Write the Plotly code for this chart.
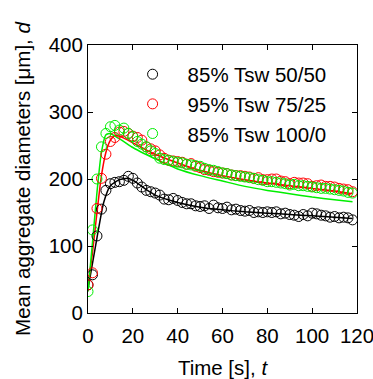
import plotly.graph_objects as go

t = list(range(0, 120, 2))

black = [42, 57, 115, 155, 183, 193, 195, 196, 198, 204, 201, 194, 188, 183, 181, 179, 176, 170, 169, 171,
         168, 165, 163, 163, 160, 159, 160, 156, 161, 157, 156, 158, 154, 155, 153, 152, 153, 150, 151, 150,
         151, 150, 151, 148, 149, 147, 146, 144, 147, 145, 149, 148, 146, 145, 143, 144, 142, 143, 142, 139]
red = [42, 60, 156, 201, 237, 256, 262, 270, 271, 268, 264, 262, 258, 248, 245, 242, 236, 231, 228, 227,
       226, 225, 222, 223, 219, 217, 214, 213, 211, 210, 209, 208, 206, 205, 205, 204, 203, 201, 202, 199,
       199, 200, 200, 197, 196, 193, 195, 194, 194, 193, 189, 190, 191, 189, 189, 188, 186, 185, 184, 181]
green = [32, 124, 200, 248, 268, 278, 280, 273, 276, 268, 263, 256, 252, 248, 242, 238, 231, 229, 228, 226,
         225, 224, 222, 221, 220, 219, 216, 214, 213, 211, 209, 208, 206, 205, 204, 203, 202, 201, 199, 198,
         196, 196, 195, 194, 193, 191, 192, 190, 190, 189, 188, 187, 186, 186, 185, 184, 183, 182, 180, 179]

fit_black_t = [0, 4, 7, 10, 14, 18, 22, 26, 30, 40, 50, 60, 70, 80, 90, 100, 110, 118]
fit_black = [36, 112, 165, 190, 199, 201, 194, 184, 176, 165, 158, 154, 151, 149, 147, 145, 143, 141]
fit_red_t = [0, 2, 4, 6, 8, 10, 12, 14, 16, 20, 25, 30, 40, 50, 60, 70, 80, 90, 100, 110, 118]
fit_red = [40, 90, 150, 205, 240, 258, 265, 264, 261, 254, 245, 237, 224, 213, 205, 199, 194, 190, 186, 182, 178]
fit_green_t = [0, 2, 4, 6, 8, 10, 12, 15, 20, 25, 30, 40, 50, 60, 70, 80, 90, 100, 110, 118]
fit_green = [32, 105, 180, 240, 266, 268, 264, 258, 247, 238, 230, 215, 205, 197, 189, 183, 178, 173, 169, 166]

names = ["85% Tsw 50/50", "95% Tsw 75/25", "85% Tsw 100/0"]
colors = ["#000000", "#ff0000", "#00ee00"]

fig = go.Figure()
for ft, fv, c in [(fit_black_t, fit_black, colors[0]), (fit_red_t, fit_red, colors[1]),
                  (fit_green_t, fit_green, colors[2])]:
    fig.add_trace(go.Scatter(x=ft, y=fv, mode="lines", line=dict(color=c, width=1.5, shape="spline", smoothing=0.6),
                             showlegend=False, hoverinfo="skip"))
for vals, n, c in [(black, names[0], colors[0]), (red, names[1], colors[1]), (green, names[2], colors[2])]:
    fig.add_trace(go.Scatter(x=t, y=vals, mode="markers", name=n,
                             marker=dict(symbol="circle-open", size=10, color=c, line=dict(width=1, color=c))))

font = dict(family="Liberation Sans, Arial, sans-serif", size=20.5, color="#000000")
fig.update_layout(
    width=373, height=379,
    margin=dict(l=88, r=16, t=45, b=66),
    paper_bgcolor="white", plot_bgcolor="white",
    font=font,
    legend=dict(x=0.11, y=0.965, xanchor="left", yanchor="top", bgcolor="rgba(0,0,0,0)",
                font=font, itemwidth=60, tracegroupgap=0),
)
fig.update_xaxes(range=[0, 120], dtick=20, tick0=0, ticks="inside", ticklen=5, tickcolor="black",
                 showline=True, linecolor="black", linewidth=1, mirror="ticks", showgrid=False, zeroline=False,
                 ticklabeloverflow="allow", ticklabelstandoff=4, automargin=False,
                 title=dict(text="Time [s], <i>t</i>", font=font, standoff=18))
fig.update_yaxes(range=[0, 400], dtick=100, tick0=0, ticks="inside", ticklen=5, tickcolor="black",
                 showline=True, linecolor="black", linewidth=1, mirror="ticks", showgrid=False, zeroline=False,
                 ticklabeloverflow="allow", automargin=False,
                 title=dict(text="Mean aggregate diameters [μm], <i>d</i>", font=font, standoff=12))
fig.write_html("out.html")
